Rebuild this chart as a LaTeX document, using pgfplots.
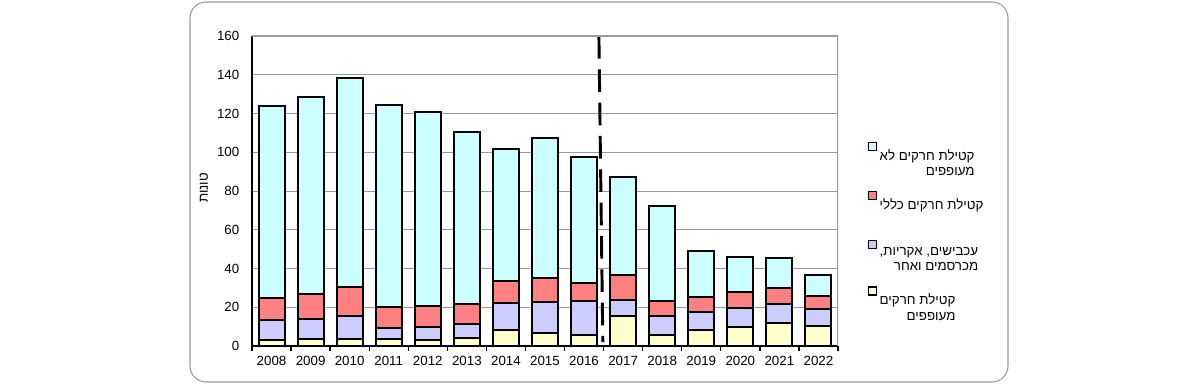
\documentclass[border=0pt]{standalone}
\usepackage{fontspec}
\setmainfont{Liberation Sans}
\newfontfamily\hebfont[Script=Hebrew]{Liberation Sans}
\TeXXeTstate=1
\usepackage{pgfplots}
\pgfplotsset{compat=1.18}
\definecolor{cCyan}{HTML}{CCFFFF}
\definecolor{cRed}{HTML}{FF8080}
\definecolor{cPurple}{HTML}{CCCCFF}
\definecolor{cYellow}{HTML}{FFFFCC}
\definecolor{gridgray}{HTML}{9A9A9A}
\pgfplotsset{sqlegend/.style={legend image code/.code={\draw[##1, line width=1.1pt] (0pt,-3pt) rectangle (6pt,3pt);}}}
\begin{document}
\begin{tikzpicture}
\useasboundingbox (-189pt,-28.5pt) rectangle (711pt,259.5pt);
\draw[gridgray, line width=0.8pt, rounded corners=12pt] (-46.5pt,-27pt) rectangle (567pt,258pt);
\begin{axis}[
  at={(0,0)}, anchor=south west, scale only axis,
  width=439.5pt, height=232.5pt,
  ybar stacked, bar width=19.5pt,
  xmin=-0.5, xmax=14.5, ymin=0, ymax=160,
  axis x line*=bottom, axis y line*=left,
  axis line style={black, line width=1.6pt, -},
  xtick={0,...,14},
  xticklabels={2008,2009,2010,2011,2012,2013,2014,2015,2016,2017,2018,2019,2020,2021,2022},
  major x tick style={draw=none},
  minor xtick={-0.5,0.5,...,14.5},
  minor x tick style={black, line width=1pt},
  minor tick length=4pt,
  tick align=outside,
  ytick={0,20,...,160},
  major y tick style={draw=none},
  major tick length=0pt,
  yticklabel style={xshift=-6pt},
  xticklabel style={yshift=-4pt},
  /pgf/number format/assume math mode=true,
  tick label style={font=\fontsize{10}{12}\selectfont},
  ymajorgrids, grid style={gridgray, line width=0.7pt},
  ylabel={\hebfont\beginR טונות\endR},
  every axis y label/.style={at={(rel axis cs:-0.082,0.51)}, rotate=90, anchor=center, font=\fontsize{10}{12}\selectfont},
  reverse legend,
  legend style={at={(rel axis cs:1.05,0.66)}, anchor=north west, draw=none, fill=none,
    font=\hebfont\fontsize{10}{11.5}\selectfont, row sep=8pt, inner sep=0pt,
    cells={anchor=north west, align=right}},
]
\addplot[fill=cYellow, draw=black, line width=1.5pt, sqlegend] coordinates {(0,3.1) (1,3.6) (2,3.6) (3,3.6) (4,3.1) (5,4.3) (6,8.3) (7,6.5) (8,5.7) (9,15.6) (10,5.7) (11,8.3) (12,10.0) (13,11.7) (14,10.5)};
\addlegendentry{\beginR קטילת חרקים\endR\\\beginR מעופפים\endR}
\addplot[fill=cPurple, draw=black, line width=1.5pt, sqlegend] coordinates {(0,10.3) (1,10.3) (2,12.0) (3,5.5) (4,6.9) (5,7.1) (6,13.7) (7,16.4) (8,17.7) (9,8.1) (10,9.9) (11,9.1) (12,9.4) (13,10.0) (14,8.6)};
\addlegendentry{\beginR עכבישים,  אקריות,\endR\\\beginR מכרסמים ואחר\endR}
\addplot[fill=cRed, draw=black, line width=1.5pt, sqlegend] coordinates {(0,11.4) (1,12.9) (2,15.0) (3,11.2) (4,10.8) (5,10.3) (6,11.5) (7,12.4) (8,8.9) (9,12.9) (10,7.8) (11,7.7) (12,8.6) (13,8.1) (14,6.9)};
\addlegendentry{\beginR קטילת חרקים כללי\endR\\\mbox{}}
\addplot[fill=cCyan, draw=black, line width=1.5pt, sqlegend] coordinates {(0,99.2) (1,101.7) (2,107.9) (3,104.1) (4,100.1) (5,88.9) (6,68.2) (7,71.9) (8,65.4) (9,50.8) (10,49.0) (11,24.1) (12,18.1) (13,15.8) (14,10.6)};
\addlegendentry{\beginR קטילת חרקים לא\endR\\\beginR מעופפים\endR}
\draw[gridgray, line width=0.8pt] (rel axis cs:0,1) -- (rel axis cs:1,1) -- (rel axis cs:1,0);
\draw[black, line width=2.2pt, dash pattern=on 17pt off 8pt] (axis cs:8.38,160) -- (axis cs:8.48,2);
\end{axis}
\end{tikzpicture}
\end{document}
